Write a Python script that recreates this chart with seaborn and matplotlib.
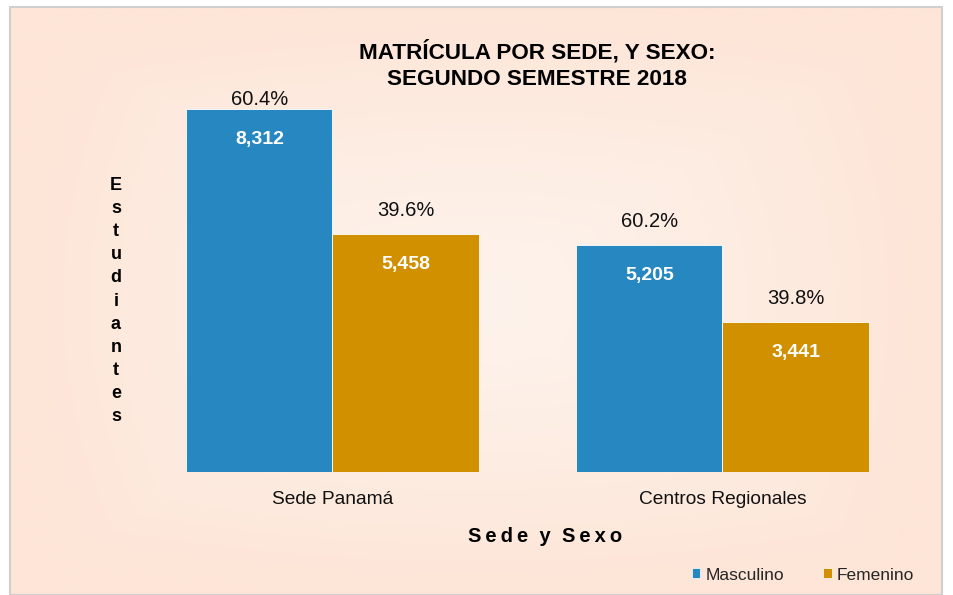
import numpy as np
import pandas as pd
import matplotlib
matplotlib.use('Agg')
import matplotlib.pyplot as plt
import seaborn as sns
from matplotlib.patches import Rectangle

# datos
sedes = ['Sede Panamá', 'Centros Regionales']
sexos = ['Masculino', 'Femenino']
masculino = [8312, 5205]
femenino = [5458, 3441]
porcentajes_m = ['60.4%', '60.2%']
porcentajes_f = ['39.6%', '39.8%']
colores = ['#2787C1', '#D09000']

df = pd.DataFrame({
    'sede': sedes * 2,
    'sexo': [sexos[0]] * 2 + [sexos[1]] * 2,
    'valor': masculino + femenino,
})

sns.set_theme(style='white')
plt.rcParams['font.family'] = ['Liberation Sans', 'DejaVu Sans']

fig = plt.figure(figsize=(9.54, 5.95), dpi=100)
fig.patch.set_facecolor('white')

# fondo con degradado
bg = fig.add_axes([10 / 954, 0, 932 / 954, 1 - 7 / 595], zorder=-5)
yy, xx = np.mgrid[-1:1:300j, -1:1:300j]
r = np.clip(np.maximum(np.abs(xx) ** 1.5, np.abs(yy) ** 1.5) * 0.6 + np.sqrt(xx ** 2 + yy ** 2) * 0.4, 0, 1)
c_in = np.array([254, 243, 236]) / 255
c_out = np.array([253, 229, 215]) / 255
img = c_in[None, None, :] * (1 - r[..., None]) + c_out[None, None, :] * r[..., None]
bg.imshow(img, aspect='auto', extent=[0, 1, 0, 1])
bg.set_axis_off()
fig.add_artist(Rectangle((10 / 954, 0), 932 / 954, 1 - 7 / 595, transform=fig.transFigure,
                         fill=False, edgecolor='#CFCFCF', lw=1.5, zorder=10))

# area de trazado: arriba limita las etiquetas
ax = fig.add_axes([137.5 / 954, 123 / 595, 780 / 954, 382 / 595])
ax.patch.set_alpha(0)
sns.barplot(data=df, x='sede', y='valor', hue='sexo', palette=colores,
            width=0.75, gap=0, saturation=1, ax=ax, legend=False,
            edgecolor='white', linewidth=0.6)
ax.set_xlim(-0.5, 1.5)
ax.set_ylim(0, 8750)

px_per_unit = 382 / 8750
for i, cont in enumerate(ax.containers):
    pcts = porcentajes_m if i == 0 else porcentajes_f
    vals = masculino if i == 0 else femenino
    for bar, p, v in zip(cont, pcts, vals):
        cx = bar.get_x() + bar.get_width() / 2
        h = bar.get_height()
        y_lab = h + 14 / px_per_unit
        if y_lab + 17 / px_per_unit > ax.get_ylim()[1]:
            ax.text(cx, ax.get_ylim()[1], p, ha='center', va='top',
                    fontsize=14.5, color='#111111')
        else:
            ax.text(cx, y_lab, p, ha='center', va='bottom', fontsize=14.5, color='#111111')
        ax.annotate(f'{v:,}', (cx, h), xytext=(0, -22), textcoords='offset points',
                    ha='center', va='center', fontsize=14, color='white', fontweight='bold')

ax.set_yticks([])
ax.tick_params(axis='x', length=0, labelsize=13.8, pad=14, labelcolor='#111111')
ax.set_xlabel('')
ax.set_ylabel('')
for s in ax.spines.values():
    s.set_visible(False)

fig.text(537 / 954, 1 - 65 / 595, 'MATRÍCULA POR SEDE, Y SEXO:\nSEGUNDO SEMESTRE 2018',
         ha='center', va='center', fontsize=16.2, fontweight='bold', linespacing=1.3,
         color='black')
fig.text(545 / 954, 1 - 537 / 595, '\u2009'.join('Sede') + '  y  ' + '\u2009'.join('Sexo'),
         ha='center', va='center', fontsize=14.5, fontweight='bold', color='black')
fig.text(116 / 954, 1 - 301 / 595, '\n'.join('Estudiantes'), ha='center', va='center',
         fontsize=13, fontweight='bold', linespacing=1.47, color='black')

# leyenda
handles = [Rectangle((0, 0), 1, 1, facecolor=c, edgecolor='white', lw=0.5) for c in colores]
fig.legend(handles, sexos, loc='center', bbox_to_anchor=(803 / 954, 1 - 575 / 595),
           ncol=2, frameon=False, fontsize=12.5, handlelength=0.5, handleheight=0.5,
           handletextpad=0.3, columnspacing=2.25)

fig.savefig('out.png', dpi=100)
